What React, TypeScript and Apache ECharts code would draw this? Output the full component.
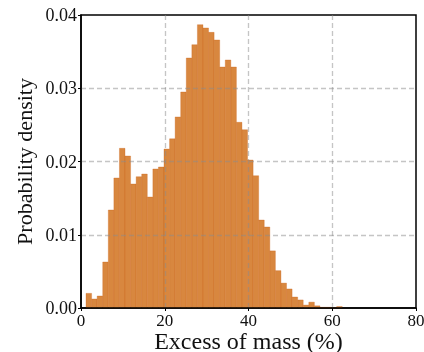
import React, { useEffect, useRef } from "react";
import * as echarts from "echarts";

const binStart = 1.2;
const binWidth = 1.33;
const densities = [
  0.002, 0.00123, 0.00164, 0.00628, 0.01338, 0.01775, 0.0218, 0.02075, 0.01693, 0.01793,
  0.01829, 0.01515, 0.01898, 0.01925, 0.0217, 0.0231, 0.02608, 0.02949, 0.03413, 0.03595,
  0.03868, 0.03823, 0.03763, 0.03659, 0.0329, 0.03386, 0.0329, 0.02535, 0.02434, 0.0202,
  0.01806, 0.01201, 0.01106, 0.0078, 0.0051, 0.0034, 0.0026, 0.0015, 0.0011, 0.0004,
  0.0008, 0.0003, 0.0001, 0.0001, 0.00005, 0.0002,
];
const xTicks = [0, 20, 40, 60, 80];
const yTicks = [0, 0.01, 0.02, 0.03, 0.04];
const xLabel = "Excess of mass (%)";
const yLabel = "Probability density";

const FONT = "Liberation Serif";

export default function App() {
  const ref = useRef<HTMLDivElement>(null);
  useEffect(() => {
    if (!ref.current) return;
    const chart = echarts.init(ref.current, null, { renderer: "svg" });
    const data = densities.map((d, i) => [
      binStart + i * binWidth,
      binStart + (i + 1) * binWidth,
      d,
    ]);
    const gridLine = {
      show: true,
      showMinLine: false,
      showMaxLine: false,
      lineStyle: { color: "rgba(140,140,140,0.5)", width: 1.3, type: [5, 3] },
    };
    chart.setOption({
      animation: false,
      grid: {
        left: 81,
        top: 15,
        right: 8,
        bottom: 44,
        outerBoundsMode: "none",
        containLabel: false,
        show: true,
        borderColor: "#000",
        borderWidth: 1.5,
        backgroundColor: "transparent",
      },
      xAxis: {
        type: "value",
        min: xTicks[0],
        max: xTicks[xTicks.length - 1],
        interval: 20,
        z: 3,
        name: xLabel,
        nameLocation: "middle",
        nameGap: 22,
        nameMoveOverlap: false,
        nameTextStyle: { fontFamily: FONT, fontSize: 24, lineHeight: 21, color: "#111" },
        axisLine: { show: true, lineStyle: { color: "#000", width: 1.5 } },
        axisTick: { show: true, length: 3, lineStyle: { color: "#000", width: 1 } },
        axisLabel: { fontFamily: FONT, fontSize: 17, lineHeight: 13, color: "#111", margin: 6 },
        splitLine: gridLine,
      },
      yAxis: {
        type: "value",
        min: yTicks[0],
        max: yTicks[yTicks.length - 1],
        interval: 0.01,
        z: 3,
        name: yLabel,
        nameLocation: "middle",
        nameGap: 46,
        nameMoveOverlap: false,
        nameTextStyle: { fontFamily: FONT, fontSize: 22, color: "#111" },
        axisLine: { show: true, lineStyle: { color: "#000", width: 1.5 } },
        axisTick: { show: true, length: 3, lineStyle: { color: "#000", width: 1 } },
        axisLabel: {
          fontFamily: FONT,
          fontSize: 18,
          color: "#111",
          margin: 4,
          formatter: (v: number) => v.toFixed(2),
        },
        splitLine: gridLine,
      },
      series: [
        {
          type: "custom",
          z: 2,
          data,
          encode: { x: [0, 1], y: 2 },
          renderItem: (params: any, api: any) => {
            const p0 = api.coord([api.value(0), api.value(2)]);
            const p1 = api.coord([api.value(1), 0]);
            return {
              type: "rect",
              shape: { x: p0[0], y: p0[1], width: p1[0] - p0[0], height: p1[1] - p0[1] },
              style: {
                fill: "#d8873f",
                stroke: "rgba(200,95,20,0.5)",
                lineWidth: 0.6,
              },
            };
          },
        },
      ],
    });
    return () => chart.dispose();
  }, []);
  return (
    <div
      ref={ref}
      style={{ position: "fixed", left: 0, top: 0, width: 424, height: 352 }}
    />
  );
}
